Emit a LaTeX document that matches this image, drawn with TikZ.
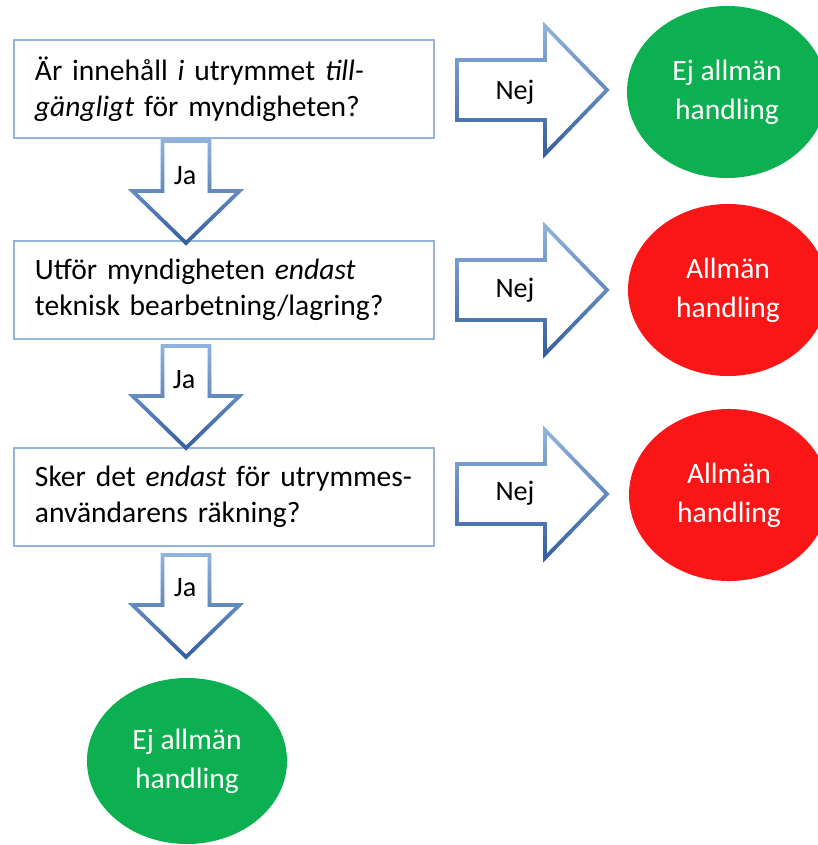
\documentclass[tikz,border=0pt]{standalone}
\usepackage{fontspec}
\setmainfont{Carlito}
\usetikzlibrary{shapes.geometric,fadings}
\definecolor{boxline}{RGB}{150,180,215}
\definecolor{arrowlight}{RGB}{145,180,222}
\definecolor{arrowdark}{RGB}{52,95,158}
\definecolor{okgreen}{RGB}{12,176,80}
\definecolor{hitred}{RGB}{250,22,22}
\tikzstyle{question} = [rectangle, draw=boxline, line width=2pt, minimum width=10.5cm, minimum height=2.45cm, text width=9.45cm, inner xsep=0.525cm, align=left, font=\fontsize{21}{26}\selectfont]
\tikzstyle{answer} = [ellipse, inner sep=0pt, minimum width=5cm, minimum height=4.3cm, align=center, text=white, font=\fontsize{21}{28}\selectfont]
\tikzstyle{blockline} = [draw=arrowlight, fill=white, line width=2.6pt, line join=miter, postaction={draw=arrowdark, line width=2.6pt, path fading=north}]
\tikzstyle{tag} = [font=\fontsize{20}{22}\selectfont]
\tikzset{
  jaarrow/.pic={\path [blockline] (-23.5,-50) -- (23.5,-50) -- (23.5,0) -- (53.5,0) -- (0,52) -- (-53.5,0) -- (-23.5,0) -- cycle;},
  nejarrow/.pic={\path [blockline] (-75,-30) -- (13,-30) -- (13,-64) -- (75,0) -- (13,64) -- (13,30) -- (-75,30) -- cycle;}
}

\begin{document}
\begin{tikzpicture}[x=0.025cm, y=-0.025cm]
      \useasboundingbox (0,0) rectangle (817,845);

      % fragor
      \node [question] (access) at (224,89) {Är innehåll \textit{i} utrymmet \textit{till-}\\\textit{gängligt} för myndigheten?};
      \node [question] (technical) at (224,290) {Utför myndigheten \textit{endast}\\teknisk bearbetning/lagring?};
      \node [question] (behalf) at (224,497) {Sker det \textit{endast} för utrymmes-\\användarens räkning?};

      % svar
      \node [answer, fill=okgreen] (notpublic1) at (727,92) {Ej allmän\\handling};
      \node [answer, fill=hitred] (public2) at (728,290) {Allmän\\handling};
      \node [answer, fill=hitred] (public3) at (729,495) {Allmän\\handling};
      \node [answer, fill=okgreen, minimum height=4.15cm] (notpublic4) at (187,761) {Ej allmän\\handling};

      % ja-pilar
      \pic at (186,191) {jaarrow};
      \pic at (186,396) {jaarrow};
      \pic at (186,605) {jaarrow};
      \node [tag] (jatext1) at (185,176) {Ja};
      \node [tag] (jatext2) at (184,380) {Ja};
      \node [tag] (jatext3) at (185,588) {Ja};

      % nej-pilar
      \pic at (532,90) {nejarrow};
      \pic at (532,290) {nejarrow};
      \pic at (532,494) {nejarrow};
      \node [tag] (nejtext1) at (515,92) {Nej};
      \node [tag] (nejtext2) at (515,290) {Nej};
      \node [tag] (nejtext3) at (515,493) {Nej};
    \end{tikzpicture}
\end{document}
